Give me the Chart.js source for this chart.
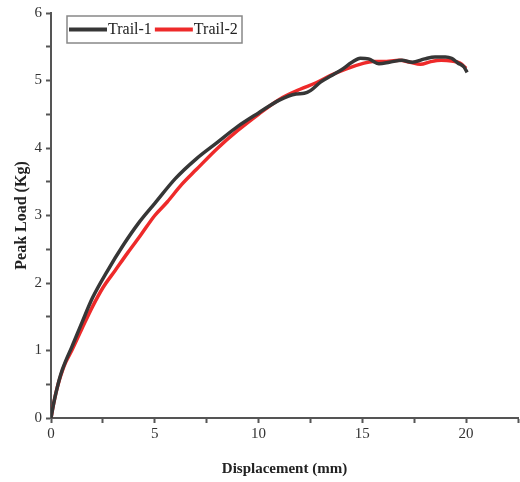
<!DOCTYPE html>
<html>
<head>
<meta charset="utf-8">
<script src="https://cdn.jsdelivr.net/npm/chart.js@4/dist/chart.umd.min.js"></script>
<style>
    html, body { margin: 0; padding: 0; background: #fff; }
    #wrap { width: 520px; height: 482px; position: relative; }
</style>
</head>
<body>
<div id="wrap"><canvas id="loadChart"></canvas></div>
<script>
// Data
const seriesNames = ['Trail-1', 'Trail-2'];

const trail1X = [0, 0.1, 0.2, 0.3, 0.4, 0.55, 0.7, 1, 1.5, 2, 2.7, 3.5, 4.2, 5, 6, 7, 8, 9, 10, 11, 11.8, 12.2, 12.5, 13, 13.5, 14, 14.5, 14.9, 15.3, 15.8, 16.3, 16.9, 17.4, 18, 18.5, 19, 19.3, 19.6, 19.9, 20.05];
const trail1Y = [0, 0.17, 0.32, 0.45, 0.57, 0.72, 0.84, 1.05, 1.42, 1.78, 2.17, 2.57, 2.88, 3.18, 3.55, 3.84, 4.08, 4.32, 4.52, 4.71, 4.8, 4.81, 4.85, 4.98, 5.07, 5.16, 5.27, 5.33, 5.32, 5.25, 5.27, 5.3, 5.27, 5.32, 5.35, 5.35, 5.33, 5.26, 5.2, 5.12];

const trail2X = [0, 0.1, 0.2, 0.3, 0.4, 0.55, 0.7, 1, 1.5, 2, 2.5, 3.1, 3.7, 4.3, 5, 5.6, 6.3, 7, 8, 9, 10, 11, 12, 12.8, 13.5, 14.2, 15, 15.5, 16, 16.8, 17.3, 17.8, 18.3, 18.8, 19.3, 19.7, 20];
const trail2Y = [0, 0.17, 0.32, 0.45, 0.56, 0.7, 0.82, 1.0, 1.33, 1.65, 1.93, 2.19, 2.45, 2.7, 3.0, 3.2, 3.46, 3.68, 3.99, 4.26, 4.5, 4.72, 4.87, 4.97, 5.08, 5.17, 5.25, 5.28, 5.28, 5.3, 5.27, 5.24, 5.28, 5.3, 5.29, 5.26, 5.18];

const xTitle = 'Displacement (mm)';
const yTitle = 'Peak Load (Kg)';

const serif = "'Liberation Serif', 'Times New Roman', serif";
const axisColor = '#555';

function toPoints(xs, ys) {
    return xs.map((x, i) => ({ x: x, y: ys[i] }));
}

// Boxed legend in the top-left corner of the plot
const boxLegend = {
    id: 'boxLegend',
    afterDraw(chart) {
        const ctx = chart.ctx;
        ctx.save();
        ctx.strokeStyle = '#888';
        ctx.lineWidth = 1.5;
        ctx.strokeRect(67, 16, 175, 27);
        ctx.font = '16px ' + serif;
        ctx.textBaseline = 'middle';
        let x = 69;
        chart.data.datasets.forEach(ds => {
            ctx.strokeStyle = ds.borderColor;
            ctx.lineWidth = 4;
            ctx.beginPath();
            ctx.moveTo(x, 29.5);
            ctx.lineTo(x + 38, 29.5);
            ctx.stroke();
            ctx.fillStyle = '#222';
            ctx.fillText(ds.label, x + 39, 30);
            x += 39 + ctx.measureText(ds.label).width + 3;
        });
        ctx.restore();
    }
};

const ctx = document.getElementById('loadChart').getContext('2d');
new Chart(ctx, {
    type: 'scatter',
    data: {
        datasets: [{
            label: seriesNames[0],
            data: toPoints(trail1X, trail1Y),
            borderColor: '#363636',
            borderWidth: 3.5,
            showLine: true,
            pointRadius: 0,
            cubicInterpolationMode: 'monotone'
        }, {
            label: seriesNames[1],
            data: toPoints(trail2X, trail2Y),
            borderColor: '#ee2a2a',
            borderWidth: 3.5,
            showLine: true,
            pointRadius: 0,
            cubicInterpolationMode: 'monotone'
        }]
    },
    options: {
        responsive: true,
        maintainAspectRatio: false,
        animation: false,
        layout: { padding: { top: 13, right: 1, left: 0, bottom: 0 } },
        plugins: {
            legend: { display: false },
            tooltip: { enabled: false }
        },
        scales: {
            x: {
                type: 'linear',
                min: 0,
                max: 22.5,
                afterFit(scale) { scale.height = 64; },
                border: { display: true, color: axisColor, width: 2 },
                grid: { drawOnChartArea: false, drawTicks: true, tickLength: 5, tickColor: axisColor, tickWidth: 2 },
                ticks: {
                    stepSize: 2.5,
                    autoSkip: false,
                    maxRotation: 0,
                    padding: 2,
                    color: '#333',
                    font: { family: serif, size: 15 },
                    callback: v => (v % 5 === 0 ? v : '')
                },
                title: {
                    display: true,
                    text: xTitle,
                    color: '#222',
                    padding: { top: 4, bottom: 4 },
                    font: { family: serif, size: 15, weight: 'bold' }
                }
            },
            y: {
                min: 0,
                max: 6,
                afterFit(scale) { scale.width = 51; },
                border: { display: true, color: axisColor, width: 2 },
                grid: { drawOnChartArea: false, drawTicks: true, tickLength: 5, tickColor: axisColor, tickWidth: 2 },
                ticks: {
                    stepSize: 0.5,
                    autoSkip: false,
                    padding: 4,
                    color: '#333',
                    font: { family: serif, size: 15 },
                    callback: v => (Number.isInteger(v) ? v : '')
                },
                title: {
                    display: true,
                    text: yTitle,
                    color: '#222',
                    padding: { top: 12, bottom: 12 },
                    font: { family: serif, size: 16, weight: 'bold' }
                }
            }
        }
    },
    plugins: [boxLegend]
});
</script>
</body>
</html>
